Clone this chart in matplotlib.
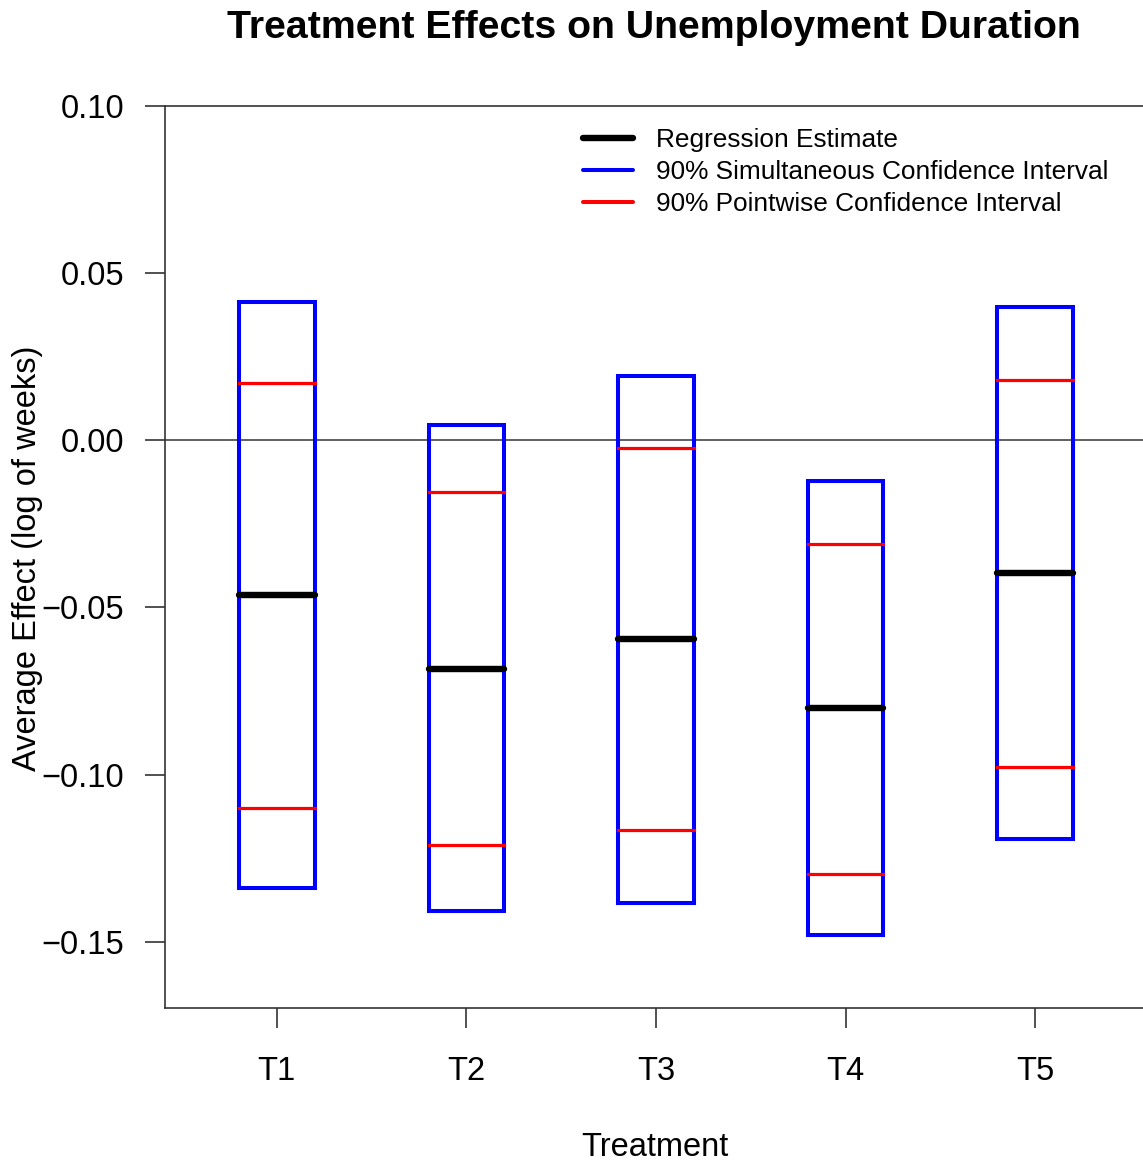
import numpy as np
import matplotlib
matplotlib.use('Agg')
import matplotlib.pyplot as plt
from matplotlib.ticker import FuncFormatter

plt.rcParams['font.family'] = ['Liberation Sans', 'DejaVu Sans']

treatments = ['T1', 'T2', 'T3', 'T4', 'T5']
estimate = [-0.0464, -0.0683, -0.0593, -0.0802, -0.0398]
sim_lo = [-0.1338, -0.1407, -0.1383, -0.1480, -0.1192]
sim_hi = [0.0413, 0.0045, 0.0192, -0.0123, 0.0398]
pw_lo = [-0.1099, -0.1210, -0.1165, -0.1296, -0.0976]
pw_hi = [0.0171, -0.0156, -0.0024, -0.0311, 0.0180]

x = np.arange(1, len(treatments) + 1)
hw = 0.2

fig = plt.figure(figsize=(11.43, 11.64), dpi=100)
ax = fig.add_axes([165 / 1143, 156 / 1164, 982 / 1143, 902 / 1164])

ax.axhline(0, color='#444444', lw=1.2, zorder=1)

for i in range(len(x)):
    xl, xr = x[i] - hw, x[i] + hw
    ax.plot([xl, xr, xr, xl, xl], [sim_lo[i], sim_lo[i], sim_hi[i], sim_hi[i], sim_lo[i]],
            color='#0000ff', lw=2.9, solid_joinstyle='miter', zorder=2)
    ax.plot([xl, xr], [pw_lo[i], pw_lo[i]], color='#ff0000', lw=2.3, zorder=3)
    ax.plot([xl, xr], [pw_hi[i], pw_hi[i]], color='#ff0000', lw=2.3, zorder=3)
    ax.plot([xl, xr], [estimate[i], estimate[i]], color='black', lw=4.6,
            solid_capstyle='round', zorder=4)

h1, = ax.plot([], [], color='black', lw=4.6, solid_capstyle='round')
h2, = ax.plot([], [], color='#0000ff', lw=2.9, solid_capstyle='round')
h3, = ax.plot([], [], color='#ff0000', lw=2.9, solid_capstyle='round')
ax.legend([h1, h2, h3], ['Regression Estimate', '90% Simultaneous Confidence Interval',
                         '90% Pointwise Confidence Interval'],
          loc='upper left', bbox_to_anchor=(0.4257, 0.9753), frameon=False,
          fontsize=18.9, borderpad=0, borderaxespad=0, handlelength=1.9,
          handletextpad=0.87, labelspacing=0.3)

ax.set_xlim(0.41, 5.59)
ax.set_ylim(-0.1698, 0.10)
ax.set_xticks(x)
ax.set_xticklabels(treatments)
ax.set_yticks([-0.15, -0.10, -0.05, 0.0, 0.05, 0.10])
ax.yaxis.set_major_formatter(FuncFormatter(lambda v, p: f'{v:.2f}'.replace('-', '\u2212')))
ax.tick_params(direction='out', length=14.5, width=1.2, color='#333333',
               labelsize=23.5, pad=15)
ax.tick_params(axis='x', pad=20)
for s in ax.spines.values():
    s.set_color('#333333')
    s.set_linewidth(1.2)

fig.text(655 / 1143, 1 - 1147 / 1164, 'Treatment', ha='center', va='center', fontsize=23.5)
fig.text(28 / 1143, 1 - 558 / 1164, 'Average Effect (log of weeks)', ha='center', va='center',
         rotation=90, fontsize=23.5)
fig.text(654 / 1143, 1 - 28 / 1164, 'Treatment Effects on Unemployment Duration',
         ha='center', va='center', fontsize=28.3, fontweight='bold')

fig.savefig('out.png', dpi=100)
